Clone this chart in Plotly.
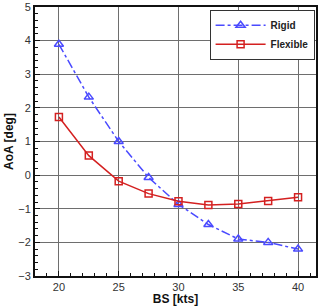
import plotly.graph_objects as go

bs = [20, 22.5, 25, 27.5, 30, 32.5, 35, 37.5, 40]
rigid = [3.89, 2.32, 1.0, -0.07, -0.87, -1.47, -1.9, -2.0, -2.2]
flexible = [1.73, 0.58, -0.18, -0.55, -0.78, -0.89, -0.86, -0.77, -0.66]

x_ticks = [20, 25, 30, 35, 40]
y_ticks = [-3, -2, -1, 0, 1, 2, 3, 4, 5]

fig = go.Figure()
fig.add_trace(go.Scatter(
    x=bs, y=rigid, name="Rigid", mode="lines+markers",
    line=dict(color="#4a4aff", width=1.5, dash="dashdot"),
    marker=dict(symbol="triangle-up-open", size=8, color="#4a4aff", line=dict(width=1.5)),
))
fig.add_trace(go.Scatter(
    x=bs, y=flexible, name="Flexible", mode="lines+markers",
    line=dict(color="#d42020", width=1.5),
    marker=dict(symbol="square-open", size=7, color="#d42020", line=dict(width=1.5)),
))

axis_common = dict(
    showline=True, linecolor="#111", linewidth=2, mirror=True,
    showgrid=True, gridcolor="#6e6e6e", gridwidth=1,
    ticks="inside", ticklen=5, tickcolor="#111",
    tickfont=dict(family="Arial, Liberation Sans", size=11, color="#333"),
    zeroline=False, automargin=False,
)

fig.update_layout(
    width=325, height=306,
    margin=dict(l=35, r=9, t=7, b=30),
    paper_bgcolor="white", plot_bgcolor="white",
    showlegend=True,
    legend=dict(
        x=0.995, y=0.99, xanchor="right", yanchor="top",
        bgcolor="white", bordercolor="#333", borderwidth=1,
        font=dict(family="Arial, Liberation Sans", size=10, color="#222", weight="bold"),
        itemwidth=50, tracegroupgap=0,
    ),
    xaxis=dict(
        range=[18, 41.5], tickvals=x_ticks,
        title=dict(text="<b>BS [kts]</b>", standoff=2,
                   font=dict(family="Arial, Liberation Sans", size=12, color="#111")),
        minor=dict(dtick=1, tick0=0, ticks="inside", ticklen=3, tickcolor="#111", showgrid=False),
        **axis_common,
    ),
    yaxis=dict(
        range=[-3, 5], tickvals=y_ticks,
        title=dict(text="<b>AoA [deg]</b>", standoff=2,
                   font=dict(family="Arial, Liberation Sans", size=12, color="#111")),
        minor=dict(dtick=0.2, tick0=0, ticks="inside", ticklen=3, tickcolor="#111", showgrid=False),
        **axis_common,
    ),
)

fig.write_html("out.html")
